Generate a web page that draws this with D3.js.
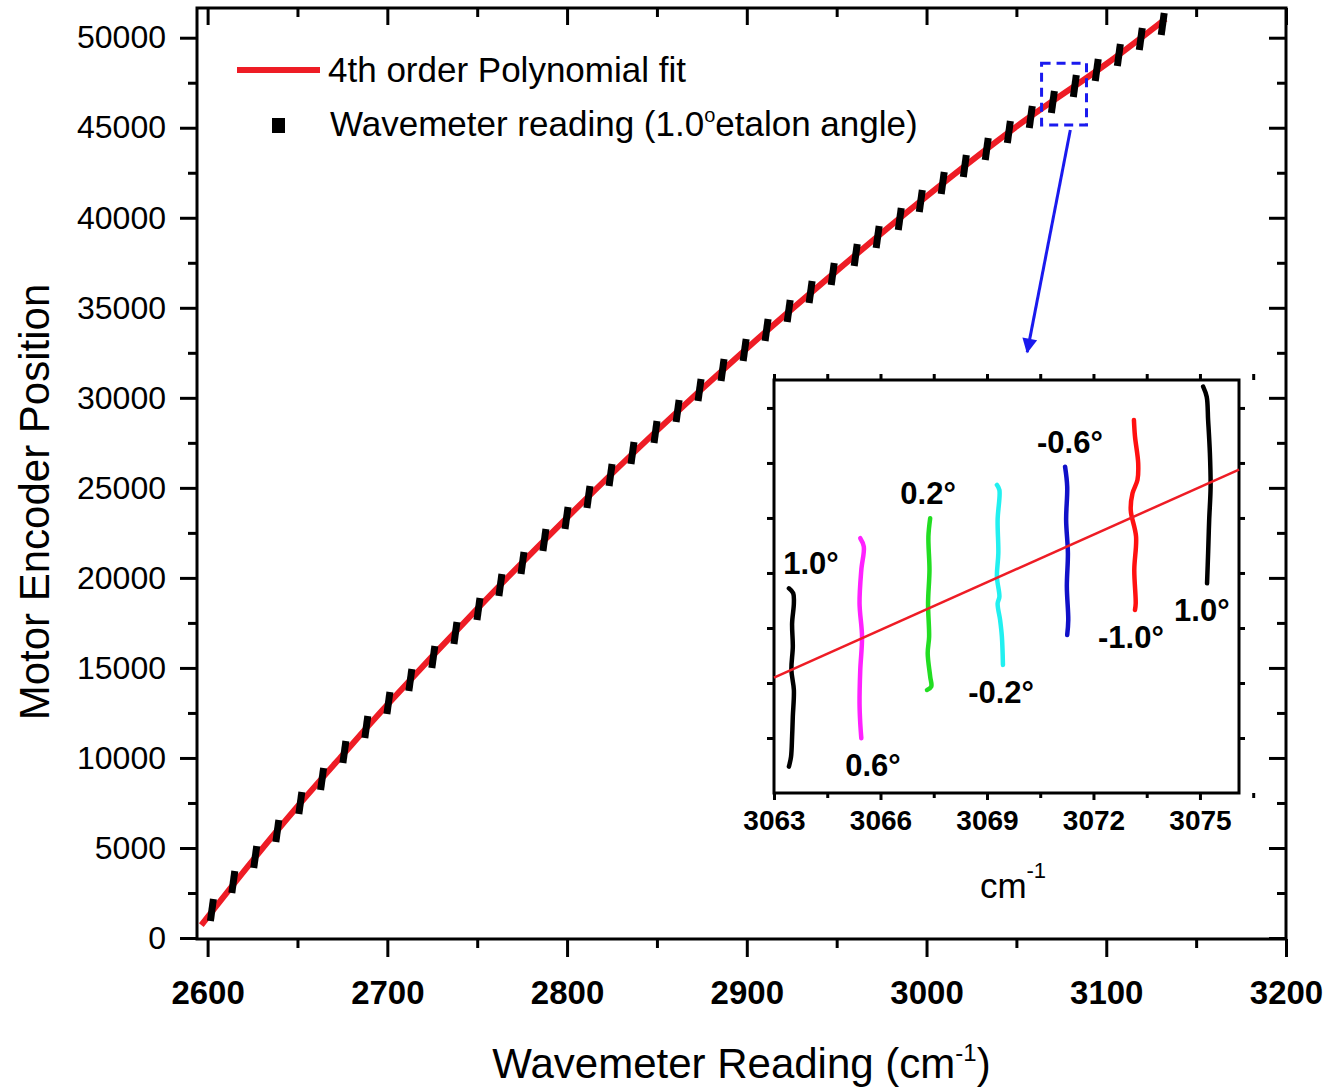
<!DOCTYPE html>
<html>
<head>
<meta charset="utf-8">
<script src="https://cdn.jsdelivr.net/npm/d3@7"></script>
<style>
  body { margin: 0; background: #fff; }
  text { font-family: Arial, "Liberation Sans", sans-serif; }
</style>
</head>
<body>
<div id="chart"></div>
<script>
// wavemeter readings (cm-1) and motor encoder positions
const wavenumbers = [2602.4, 2614.3, 2626.5, 2638.8, 2651.6, 2663.7, 2676.1, 2688.3, 2700.6, 2712.8,
  2725.6, 2737.9, 2750.7, 2762.9, 2775.2, 2787.4, 2799.7, 2811.9, 2824.2, 2836.4, 2849.2, 2861.5,
  2873.7, 2886.5, 2898.8, 2911.0, 2923.3, 2935.5, 2947.8, 2960.6, 2972.8, 2985.1, 2996.8, 3009.0,
  3021.3, 3033.5, 3045.8, 3058.0, 3070.3, 3082.5, 3094.7, 3107.0, 3119.2, 3131.4];
const encoderPositions = [1555, 3110, 4499, 5943, 7498, 8831, 10330, 11719, 13052, 14329,
  15607, 16940, 18273, 19606, 20828, 22105, 23327, 24493, 25715, 26937, 28103, 29270,
  30436, 31547, 32658, 33769, 34824, 35879, 36879, 37934, 38934, 39934, 40934, 41933,
  42877, 43821, 44765, 45598, 46431, 47320, 48209, 49042, 49930, 50764];

// 4th order polynomial fit curve
const fitWavenumbers = [2596.5, 2625, 2650, 2675, 2700, 2750, 2800, 2850, 2900, 2950, 3000, 3050, 3100, 3133];
const fitPositions = [720, 4300, 7300, 10150, 12950, 18280, 23350, 28180, 32740, 37050, 41190, 45060, 48540, 51050];

const xTickValues = [2600, 2700, 2800, 2900, 3000, 3100, 3200];
const yTickValues = [0, 5000, 10000, 15000, 20000, 25000, 30000, 35000, 40000, 45000, 50000];

// inset: etalon angle scans around 3063-3076 cm-1
const traceAngles = ["1.0°", "0.6°", "0.2°", "-0.2°", "-0.6°", "-1.0°", "1.0°"];
const traceColors = ["#000000", "#ff22ff", "#22dd22", "#22f0f0", "#1010c8", "#ff1010", "#000000"];
const traceWavenumbers = [
  [3063.42, 3063.54, 3063.56, 3063.51, 3063.53, 3063.49, 3063.56, 3063.53, 3063.51, 3063.48, 3063.42],
  [3065.43, 3065.53, 3065.46, 3065.41, 3065.48, 3065.43, 3065.41, 3065.43, 3065.46],
  [3067.40, 3067.35, 3067.38, 3067.34, 3067.37, 3067.33, 3067.40, 3067.43, 3067.31],
  [3069.28, 3069.35, 3069.30, 3069.32, 3069.28, 3069.35, 3069.30, 3069.37, 3069.42, 3069.45],
  [3071.20, 3071.26, 3071.23, 3071.28, 3071.25, 3071.29, 3071.26],
  [3073.14, 3073.17, 3073.26, 3073.24, 3073.10, 3073.05, 3073.20, 3073.15, 3073.19, 3073.17],
  [3075.09, 3075.19, 3075.23, 3075.28, 3075.30, 3075.26, 3075.23, 3075.20]
];
const traceCounts = [
  [46430, 46408, 46362, 46271, 46165, 46059, 45968, 45847, 45756, 45665, 45620],
  [46658, 46620, 46514, 46362, 46210, 46059, 45908, 45817, 45749],
  [46749, 46665, 46514, 46362, 46210, 46135, 46029, 45983, 45968],
  [46900, 46877, 46741, 46590, 46483, 46392, 46362, 46286, 46210, 46082],
  [46983, 46892, 46741, 46590, 46438, 46286, 46218],
  [47195, 47120, 46999, 46923, 46862, 46786, 46665, 46514, 46362, 46332],
  [47347, 47301, 47195, 47044, 46892, 46741, 46590, 46453]
];
const insetFitWavenumbers = [3063, 3076.1];
const insetFitCounts = [46024, 46970];
const insetTickValues = [3063, 3066, 3069, 3072, 3075];

const width = 1331, height = 1090;
const plot = { left: 197, top: 8, right: 1286, bottom: 939 };
const red = "#ee1c25";

const svg = d3.select("#chart").append("svg")
  .attr("width", width)
  .attr("height", height);

const x = d3.scaleLinear().domain([2594.1, 3200]).range([plot.left, plot.right]);
const y = d3.scaleLinear().domain([-55, 51650]).range([plot.bottom, plot.top]);

// minor ticks
const xMinor = xTickValues.slice(0, -1).map(v => v + 50);
const yMinor = yTickValues.map(v => v + 2500).filter(v => v < 51650);

function styleAxis(g) {
  g.select(".domain").remove();
  g.selectAll(".tick line").attr("stroke", "#000").attr("stroke-width", 3);
}

// bottom axis
svg.append("g")
  .attr("transform", `translate(0,${plot.bottom})`)
  .call(d3.axisBottom(x).tickValues(xTickValues).tickSize(18).tickPadding(24).tickFormat(d3.format("d")))
  .call(styleAxis)
  .selectAll("text")
  .style("font-size", "33px").style("font-weight", "bold").attr("fill", "#000");
svg.append("g")
  .attr("transform", `translate(0,${plot.bottom})`)
  .call(d3.axisBottom(x).tickValues(xMinor).tickSize(9).tickFormat(""))
  .call(styleAxis);

// top axis, inward ticks
svg.append("g")
  .attr("transform", `translate(0,${plot.top})`)
  .call(d3.axisBottom(x).tickValues(xTickValues).tickSize(17).tickFormat(""))
  .call(styleAxis);
svg.append("g")
  .attr("transform", `translate(0,${plot.top})`)
  .call(d3.axisBottom(x).tickValues(xMinor).tickSize(9).tickFormat(""))
  .call(styleAxis);

// left axis
svg.append("g")
  .attr("transform", `translate(${plot.left},0)`)
  .call(d3.axisLeft(y).tickValues(yTickValues).tickSize(17).tickPadding(14).tickFormat(d3.format("d")))
  .call(styleAxis)
  .selectAll("text")
  .style("font-size", "32px").attr("fill", "#000");
svg.append("g")
  .attr("transform", `translate(${plot.left},0)`)
  .call(d3.axisLeft(y).tickValues(yMinor).tickSize(9).tickFormat(""))
  .call(styleAxis);

// right axis, inward ticks
svg.append("g")
  .attr("transform", `translate(${plot.right},0)`)
  .call(d3.axisLeft(y).tickValues(yTickValues).tickSize(17).tickFormat(""))
  .call(styleAxis);
svg.append("g")
  .attr("transform", `translate(${plot.right},0)`)
  .call(d3.axisLeft(y).tickValues(yMinor).tickSize(9).tickFormat(""))
  .call(styleAxis);

// frame
svg.append("rect")
  .attr("x", plot.left).attr("y", plot.top)
  .attr("width", plot.right - plot.left).attr("height", plot.bottom - plot.top)
  .attr("fill", "none").attr("stroke", "#000").attr("stroke-width", 3);

// axis titles
svg.append("text")
  .attr("x", (plot.left + plot.right) / 2).attr("y", 1078)
  .attr("text-anchor", "middle").style("font-size", "42px")
  .call(t => {
    t.append("tspan").text("Wavemeter Reading (cm");
    t.append("tspan").attr("dy", -17).style("font-size", "24px").text("-1");
    t.append("tspan").attr("dy", 17).text(")");
  });

svg.append("text")
  .attr("transform", "rotate(-90)")
  .attr("x", -502).attr("y", 49)
  .attr("text-anchor", "middle").style("font-size", "42px")
  .text("Motor Encoder Position");

// fit line
const fitLine = d3.line()
  .x((d, i) => x(fitWavenumbers[i]))
  .y(d => y(d))
  .curve(d3.curveCatmullRom);
svg.append("path")
  .datum(fitPositions)
  .attr("d", fitLine)
  .attr("fill", "none").attr("stroke", red).attr("stroke-width", 6);

// data markers (short vertical bars)
svg.append("g").selectAll("line")
  .data(wavenumbers)
  .join("line")
  .attr("x1", d => x(d) - 1.5)
  .attr("y1", (d, i) => y(encoderPositions[i]) + 11)
  .attr("x2", d => x(d) + 1.5)
  .attr("y2", (d, i) => y(encoderPositions[i]) - 11)
  .attr("stroke", "#000").attr("stroke-width", 7);

// legend
const legend = svg.append("g");
legend.append("line")
  .attr("x1", 237).attr("x2", 320).attr("y1", 70).attr("y2", 70)
  .attr("stroke", red).attr("stroke-width", 6);
legend.append("text")
  .attr("x", 328).attr("y", 82).style("font-size", "35px")
  .text("4th order Polynomial fit");
legend.append("rect")
  .attr("x", 272).attr("y", 118).attr("width", 13).attr("height", 15)
  .attr("fill", "#000");
legend.append("text")
  .attr("x", 330).attr("y", 136).style("font-size", "35px")
  .call(t => {
    t.append("tspan").text("Wavemeter reading (1.0");
    t.append("tspan").attr("dy", -14).style("font-size", "20px").text("o");
    t.append("tspan").attr("dy", 14).text("etalon angle)");
  });

// zoom box and arrow
const boxColor = "#1a1aee";
svg.append("rect")
  .attr("x", x(3064)).attr("y", y(48580))
  .attr("width", x(3089) - x(3064)).attr("height", y(45150) - y(48580))
  .attr("fill", "none").attr("stroke", boxColor).attr("stroke-width", 3)
  .attr("stroke-dasharray", "9,6");

svg.append("defs").append("marker")
  .attr("id", "arrow")
  .attr("viewBox", "0 0 10 10").attr("refX", 9).attr("refY", 5)
  .attr("markerWidth", 7).attr("markerHeight", 5)
  .attr("markerUnits", "strokeWidth")
  .attr("orient", "auto")
  .append("path").attr("d", "M0,0 L10,5 L0,10 z").attr("fill", boxColor);

svg.append("line")
  .attr("x1", x(3080)).attr("y1", y(44870))
  .attr("x2", x(3056)).attr("y2", y(32540))
  .attr("stroke", boxColor).attr("stroke-width", 3)
  .attr("marker-end", "url(#arrow)");

// ---------------- inset ----------------
const inset = { left: 774, top: 380, right: 1239, bottom: 793 };
const ix = d3.scaleLinear().domain([3063, 3076.1]).range([inset.left, inset.right]);
const iy = d3.scaleLinear().domain([45500, 47377]).range([inset.bottom, inset.top]);
const insetMinor = insetTickValues.map(v => v + 1.5);
const iyTicks = d3.range(45750, 47377, 250);

const ig = svg.append("g");

ig.append("g")
  .attr("transform", `translate(0,${inset.bottom})`)
  .call(d3.axisBottom(ix).tickValues(insetTickValues).tickSize(7).tickPadding(10).tickFormat(d3.format("d")))
  .call(styleAxis)
  .selectAll("text")
  .style("font-size", "28px").style("font-weight", "bold").attr("fill", "#000");
ig.append("g")
  .attr("transform", `translate(0,${inset.bottom})`)
  .call(d3.axisBottom(ix).tickValues(insetMinor).tickSize(5).tickFormat(""))
  .call(styleAxis);
ig.append("g")
  .attr("transform", `translate(0,${inset.top})`)
  .call(d3.axisTop(ix).tickValues(insetTickValues.concat(insetMinor)).tickSize(6).tickFormat(""))
  .call(styleAxis);
ig.append("g")
  .attr("transform", `translate(${inset.left},0)`)
  .call(d3.axisLeft(iy).tickValues(iyTicks).tickSize(7).tickFormat(""))
  .call(styleAxis);
ig.append("g")
  .attr("transform", `translate(${inset.right},0)`)
  .call(d3.axisRight(iy).tickValues(iyTicks).tickSize(6).tickFormat(""))
  .call(styleAxis);

ig.append("rect")
  .attr("x", inset.left).attr("y", inset.top)
  .attr("width", inset.right - inset.left).attr("height", inset.bottom - inset.top)
  .attr("fill", "none").attr("stroke", "#000").attr("stroke-width", 3);

// scan traces
const traceLine = d3.line().x(d => ix(d[0])).y(d => iy(d[1])).curve(d3.curveCatmullRom);
traceWavenumbers.forEach((wn, k) => {
  const pts = wn.map((w, i) => [w, traceCounts[k][i]]);
  ig.append("path")
    .attr("d", traceLine(pts))
    .attr("fill", "none")
    .attr("stroke", traceColors[k])
    .attr("stroke-width", 4.5)
    .attr("stroke-linecap", "round");
});

// inset fit line
ig.append("line")
  .attr("x1", ix(insetFitWavenumbers[0])).attr("y1", iy(insetFitCounts[0]))
  .attr("x2", ix(insetFitWavenumbers[1])).attr("y2", iy(insetFitCounts[1]))
  .attr("stroke", red).attr("stroke-width", 2.5);

// angle labels: alternate above / below the traces
const labelAbove = [true, false, true, false, true, false, false];
const labelDx = [19, 12, -1, 2, 3, -4, -6];
traceAngles.forEach((a, k) => {
  const counts = traceCounts[k];
  const xc = ix(d3.mean(traceWavenumbers[k])) + labelDx[k];
  const yy = labelAbove[k] ? iy(d3.max(counts)) - 14 : iy(d3.min(counts)) + 38;
  ig.append("text")
    .attr("x", xc).attr("y", yy)
    .attr("text-anchor", "middle")
    .style("font-size", "31px").style("font-weight", "bold")
    .text(a);
});

// inset axis title
ig.append("text")
  .attr("x", 1013).attr("y", 898)
  .attr("text-anchor", "middle").style("font-size", "35px")
  .call(t => {
    t.append("tspan").text("cm");
    t.append("tspan").attr("dy", -20).style("font-size", "22px").text("-1");
  });
</script>
</body>
</html>
